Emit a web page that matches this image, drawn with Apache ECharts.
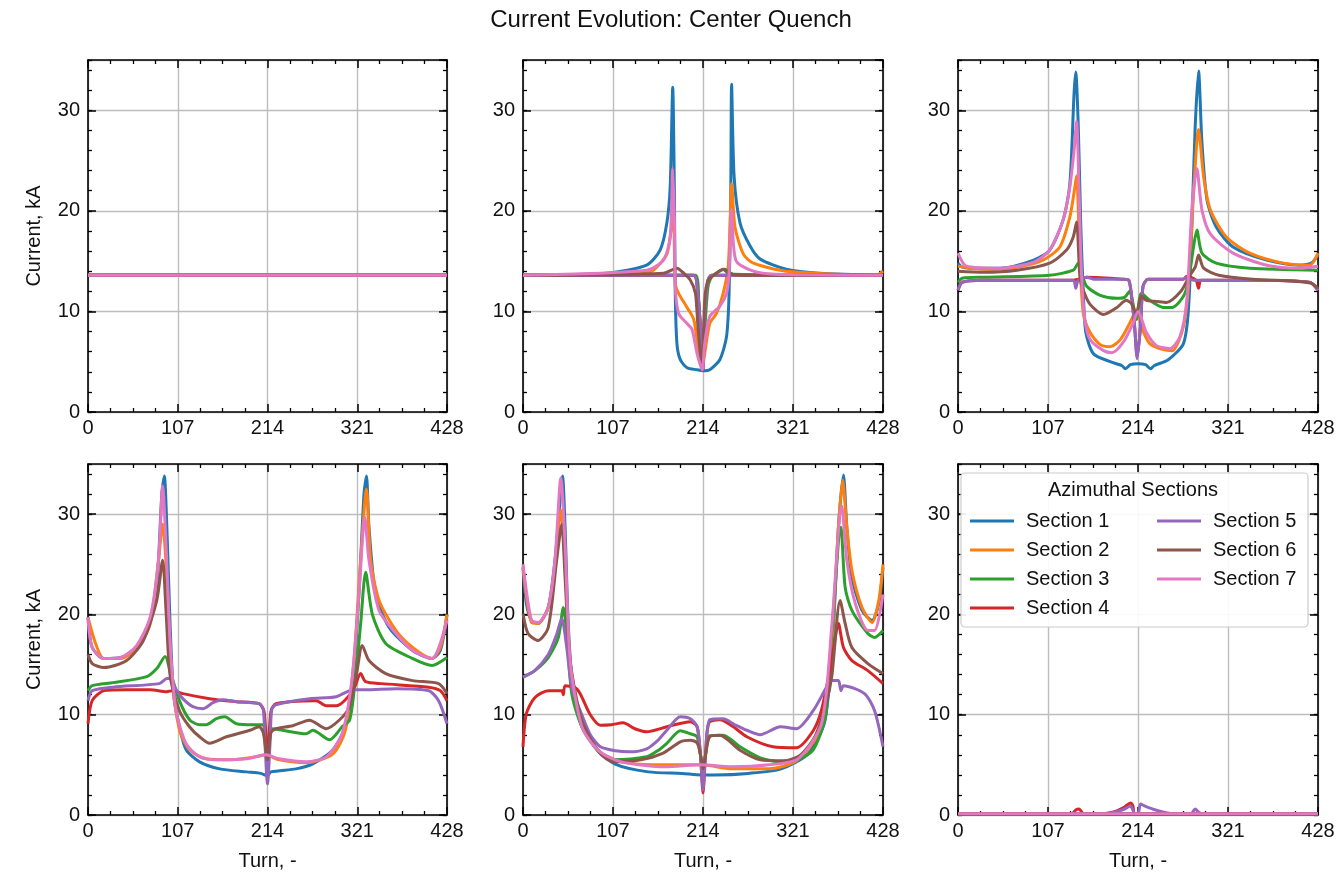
<!DOCTYPE html>
<html>
<head>
<meta charset="utf-8">
<script src="https://cdn.jsdelivr.net/npm/echarts@6/dist/echarts.min.js"></script>
<style>
  html, body { margin: 0; background: #fff; }
  #main { width: 1342px; height: 875px; }
</style>
</head>
<body>
<div id="main"></div>
<script>
const sectionNames = ['Section 1', 'Section 2', 'Section 3', 'Section 4', 'Section 5', 'Section 6', 'Section 7'];
const sectionColors = ['#1f77b4', '#ff7f0e', '#2ca02c', '#d62728', '#9467bd', '#8c564b', '#e377c2'];
const xTickLabels = [0, 107, 214, 321, 428];
const yTickLabels = [0, 10, 20, 30];

// each panel: one [turn, kA] list per section, Section 1 .. Section 7
const panel1 = [
  [[0, 13.6], [428, 13.6]],
  [[0, 13.6], [428, 13.6]],
  [[0, 13.6], [428, 13.6]],
  [[0, 13.6], [428, 13.6]],
  [[0, 13.6], [428, 13.6]],
  [[0, 13.6], [428, 13.6]],
  [[0, 13.6], [428, 13.6]]
];

const panel2 = [
  [[0,13.6],[100,13.8],[147,14.6],[163,16.1],[171,18.8],[175,22.4],[178,32.3],[180,21.7],[181,11.8],[183,6.8],[187,5.2],[195,4.4],[207,4.2],[214,4.1],[222,4.2],[234,5.2],[242,7.5],[245,11.8],[247,21.7],[248,32.6],[251,23.4],[258,18.8],[270,16.5],[282,15.2],[313,14.2],[353,13.8],[428,13.6]],
  [[0,13.6],[140,13.8],[155,14.1],[171,15.7],[176,18],[179,19.6],[181,12.8],[185,11.8],[195,10.4],[203,9.2],[208,6.5],[213,4.2],[216,5.8],[222,8.8],[230,9.8],[238,11.8],[244,14.5],[247,20.8],[248,22.7],[252,18.4],[262,15.7],[274,14.8],[313,14],[420,13.6],[428,14]],
  [[0,13.6],[205,13.6],[209,11],[213,4.2],[216,8],[220,12.5],[225,13.5],[240,14.2],[250,13.7],[428,13.6]],
  [[0,13.6],[203,13.6],[207,12.5],[211,8.5],[214,4.2],[216,9.8],[220,13.1],[224,13.6],[428,13.6]],
  [[0,13.6],[203,13.6],[207,12.5],[211,8.5],[214,4.2],[216,9.8],[220,13.1],[224,13.6],[428,13.6]],
  [[0,13.6],[167,13.8],[183,14.3],[191,13.8],[199,13.1],[205,11.8],[208,8.5],[213,4.2],[216,11.1],[220,13.1],[230,13.8],[238,14.2],[244,13.8],[260,13.6],[428,13.6]],
  [[0,13.6],[147,14.1],[167,15.1],[175,17.4],[178,24.2],[180,19],[181,12.5],[185,9.8],[195,8.8],[201,8.2],[207,5.8],[213,4.2],[216,6.8],[222,9.5],[234,10.5],[242,11.8],[245,13.8],[247,18.4],[248,20.1],[253,15.1],[274,14],[300,13.7],[428,13.6]]
];

const panel3 = [
  [[0,14.8],[5,14.4],[14,14.3],[50,14.3],[90,15.1],[109,16.1],[125,19.1],[133,22.7],[138,31.7],[140,33.8],[143,28.4],[146,18.4],[149,11.8],[152,7.9],[161,5.8],[181,5.0],[195,4.6],[199,4.3],[205,4.7],[214,4.8],[223,4.7],[229,4.3],[233,4.6],[250,5.2],[268,6.8],[274,10.2],[278,18.4],[282,28.4],[286,33.9],[290,26.8],[296,21.1],[307,18.4],[327,16.4],[367,15.1],[406,14.6],[420,14.8],[428,15.6]],
  [[0,14.5],[30,14.2],[70,14.4],[101,15.1],[121,16.4],[133,19.4],[139,22.4],[141,23.5],[145,15.1],[149,9.8],[157,7.9],[169,6.7],[181,6.5],[193,7.2],[204,8.8],[210,9.8],[214,10],[218,8.5],[228,6.8],[244,6.2],[255,6.1],[268,8.5],[274,12.5],[280,21.7],[286,28.1],[292,23.4],[300,20.1],[319,17.4],[347,15.8],[387,14.8],[418,14.6],[428,15.8]],
  [[0,12.9],[5,13.3],[30,13.4],[109,13.6],[137,14.1],[143,14.8],[147,13.8],[153,12.5],[169,11.6],[189,11.3],[198,11.4],[204,12],[208,10.8],[212,9.2],[218,11.8],[228,11.1],[244,10.4],[255,10.4],[268,11.5],[274,13.1],[280,16.4],[284,18.1],[290,15.8],[307,14.8],[347,14.3],[428,14.1]],
  [[0,12.1],[5,12.9],[30,13.1],[137,13.1],[153,13.4],[197,13.2],[203,13.1],[206,11.8],[210,8.5],[213,5.5],[217,8.5],[220,12.5],[226,13.2],[268,13.2],[272,13.5],[283,13.1],[286,12.3],[289,13.1],[347,13.1],[418,12.9],[428,12.1]],
  [[0,12.1],[5,12.9],[30,13.1],[137,13.1],[140,12.3],[143,13.1],[153,13.4],[161,13.2],[197,13.2],[203,13.1],[206,11.8],[210,8.5],[213,5.3],[217,8.5],[220,12.5],[226,13.2],[268,13.2],[272,13.4],[280,13.1],[347,13.1],[418,12.9],[428,12.1]],
  [[0,14.0],[30,13.9],[70,14.1],[109,14.8],[129,16.1],[137,17.4],[141,18.9],[145,13.4],[149,12.1],[157,10.7],[173,9.7],[189,10.4],[200,11.1],[206,10.8],[212,9.8],[218,11.5],[224,11.1],[236,11.0],[248,10.9],[265,12],[275,13.5],[282,14.4],[286,15.6],[292,14.3],[310,13.6],[350,13.2],[400,13.0],[420,12.8],[428,12.3]],
  [[0,15.8],[10,14.5],[50,14.3],[90,14.9],[109,16.1],[125,19.1],[133,22.4],[138,26],[141,28.9],[144,21.7],[147,13.4],[151,9.1],[157,7.2],[173,6.1],[183,5.9],[197,7.0],[208,8.8],[214,10],[224,7.9],[236,6.6],[252,6.3],[264,7.5],[272,11.1],[278,20.1],[284,24.2],[290,20.1],[300,17.7],[327,15.8],[367,14.6],[406,14.3],[428,14.5]]
];

const panel4 = [
  [[0,19.7],[5,16.7],[19,15.6],[39,15.7],[58,16.7],[74,19.4],[82,22.7],[88,32],[91,33.8],[94,28.7],[98,18.7],[102,12.1],[109,8.8],[117,6.5],[133,5.3],[157,4.6],[189,4.3],[206,4.15],[214,3.9],[218,4.3],[248,4.6],[268,5.1],[292,6.5],[307,8.8],[315,12.1],[323,22],[329,32],[332,33.8],[335,28.7],[343,22],[359,18.7],[387,16.4],[410,15.6],[420,16.4],[428,20]],
  [[0,19.7],[19,15.6],[39,15.6],[58,16.6],[74,19],[84,25.4],[89,29],[94,23.7],[100,13.8],[109,8.5],[121,6.5],[141,5.6],[169,5.5],[200,5.8],[212,6.0],[228,5.5],[260,5.2],[292,6.1],[307,8.5],[317,15.4],[325,25.4],[332,32.5],[337,25.4],[347,21.4],[367,18.4],[387,16.7],[410,15.6],[420,16.7],[428,20]],
  [[0,12.4],[5,12.9],[30,13.2],[70,13.8],[82,14.6],[92,15.8],[98,14.3],[109,11.4],[121,9.5],[133,9.0],[141,9.0],[153,9.6],[163,9.8],[177,9.1],[197,9.0],[208,9.0],[214,6.1],[220,8.6],[232,8.45],[260,8.1],[268,8.45],[288,7.5],[303,8.8],[312,9.5],[318,13],[325,19],[331,24.2],[339,20],[355,17.1],[387,15.6],[410,14.9],[428,15.7]],
  [[0,9.1],[5,11.4],[19,12.4],[46,12.5],[74,12.5],[94,12.3],[101,12.4],[113,12.1],[145,11.6],[177,11.3],[204,11.1],[210,10.3],[214,5.5],[218,10.3],[224,11.1],[272,11.4],[284,10.9],[296,10.9],[316,12.4],[325,14.1],[331,13.3],[350,13.1],[406,12.75],[420,12.4],[428,11.4]],
  [[0,11.4],[5,12.4],[30,12.75],[85,13.1],[94,13.6],[98,13.6],[105,12.5],[113,11.6],[125,10.8],[137,10.6],[149,11.2],[161,11.5],[177,11.3],[204,11.1],[209,10.5],[211,7.1],[214,3.1],[217,7.1],[219,10.5],[224,11.0],[264,11.6],[296,11.8],[316,12.5],[331,12.5],[367,12.6],[406,12.4],[418,11.4],[428,9.1]],
  [[0,16.0],[5,15.1],[19,14.7],[46,15.4],[66,17.4],[82,21.4],[89,25.4],[93,20.4],[98,13.8],[109,10.4],[121,8.8],[133,7.8],[145,7.15],[165,7.8],[193,8.45],[204,8.8],[209,8.2],[214,5.5],[218,8.2],[224,8.6],[244,8.9],[264,9.45],[284,8.6],[300,9.5],[311,10.7],[320,14],[327,16.9],[335,15.4],[355,14.1],[387,13.4],[418,13.1],[428,12.1]],
  [[0,19.7],[5,16.7],[19,15.6],[39,15.7],[58,16.9],[74,19.7],[84,25.4],[89,32.8],[93,27],[98,17],[105,10.4],[117,7.1],[133,5.8],[157,5.5],[189,5.6],[212,6.0],[228,5.6],[260,5.3],[284,5.8],[303,8.1],[315,13.75],[323,22],[330,29.7],[335,25.4],[347,20.4],[367,18.1],[387,16.4],[410,15.6],[428,19.4]]
];

const panel5 = [
  [[0,24.7],[4,21.1],[10,19.4],[18,19.1],[30,20.7],[38,25.4],[44,31.3],[47,33.8],[50,28.7],[54,18.7],[60,12.1],[70,8.8],[86,6.8],[109,5.1],[149,4.3],[189,4.15],[212,4.0],[228,4.0],[268,4.15],[307,4.6],[339,6.1],[359,9.4],[369,18.7],[375,28.7],[381,33.9],[385,28.7],[391,23.7],[403,20.4],[415,19.4],[423,21.1],[428,24.7]],
  [[0,24.7],[10,19.2],[18,19.1],[30,20.7],[38,24.7],[45,30.4],[50,25.4],[56,15.4],[70,9.1],[90,6.4],[117,5.3],[169,5.0],[212,5.0],[248,4.6],[292,4.6],[327,5.5],[355,8.8],[367,17.1],[375,28.7],[380,33.4],[385,28.7],[391,24.4],[403,20.7],[415,19.2],[423,21.4],[428,25]],
  [[0,13.75],[14,14.4],[30,15.7],[42,17.7],[48,20.7],[52,18.1],[58,12.1],[70,8.8],[90,6.3],[107,5.5],[147,5.8],[160,6.4],[171,7.15],[187,8.4],[199,8.1],[207,7.8],[211,6],[214,4.6],[217,6],[222,7.9],[238,7.95],[258,6.8],[282,5.7],[306,5.3],[325,5.5],[345,6.5],[360,10],[367,18],[378,28.7],[383,22.7],[391,20.4],[410,18.1],[418,17.7],[428,18.4]],
  [[0,6.8],[4,10.1],[14,11.7],[30,12.4],[46,12.4],[48,12.0],[50,12.9],[62,12.7],[68,12.1],[80,10],[92,8.95],[105,9],[119,9.2],[133,8.6],[147,8.3],[171,8.8],[199,9.3],[207,8.8],[211,6],[214,2.2],[217,6],[221,9.2],[234,9.5],[250,8.8],[266,7.8],[297,6.8],[325,6.7],[345,8.4],[355,10.5],[367,15.4],[375,19.1],[381,16.7],[391,15.4],[410,14.4],[428,13.1]],
  [[0,13.75],[14,14.4],[30,16],[40,18],[46,19.6],[52,16.7],[58,12.7],[68,10.4],[80,8],[92,6.8],[110,6.4],[127,6.3],[147,6.6],[161,7.5],[171,8.45],[187,9.8],[199,9.6],[207,8.8],[211,6],[214,2.5],[217,6],[222,9.5],[238,9.6],[252,9],[266,8.45],[282,8.0],[306,8.8],[325,8.6],[345,10.4],[360,12.6],[367,13.4],[375,13.4],[378,12.4],[381,12.9],[406,12.1],[418,10.4],[428,6.8]],
  [[0,20.1],[6,18.1],[18,17.4],[30,18.7],[40,25.4],[46,29],[50,23.7],[56,15.4],[70,9.4],[90,6.3],[107,5.3],[140,5.5],[166,6.15],[187,7.3],[199,7.45],[207,7.2],[211,6],[214,4.6],[217,6],[222,7.8],[234,7.95],[258,6.45],[282,5.5],[310,5.4],[330,6.0],[347,7.8],[360,11],[367,13.75],[377,21.4],[383,19.1],[391,16.7],[410,15.1],[428,14.1]],
  [[0,25],[10,19.4],[18,19.2],[30,20.7],[38,25.4],[45,33.6],[50,27],[56,15.4],[70,8.8],[90,6.4],[117,5.3],[169,4.8],[212,5.0],[248,4.8],[292,5.0],[327,5.6],[355,9.1],[367,18.7],[379,30.8],[385,25.4],[395,21.1],[410,18.4],[418,18.4],[428,22]]
];

const panel6 = [
  [[0,0.12],[428,0.12]],
  [[0,0.12],[428,0.12]],
  [[0,0.12],[428,0.12]],
  [[0,0.12],[135,0.12],[140,0.5],[144,0.6],[148,0.2],[152,0.12],[170,0.12],[185,0.3],[198,0.8],[205,1.2],[208,0.9],[210,0.12],[428,0.12]],
  [[0,0.12],[170,0.12],[185,0.25],[198,0.6],[205,0.9],[208,0.5],[210,0.12],[214,0.12],[217,1.1],[222,0.9],[235,0.5],[256,0.12],[277,0.12],[282,0.6],[286,0.3],[290,0.12],[428,0.12]],
  [[0,0.12],[428,0.12]],
  [[0,0.12],[428,0.12]]
];

const panels = [panel1, panel2, panel3, panel4, panel5, panel6];
// left, top, width, height of each plot box
const boxes = [
  [88, 60, 359, 352], [523, 60, 360, 352], [958, 60, 360, 352],
  [88, 464, 359, 351], [523, 464, 360, 351], [958, 464, 360, 351]
];

const FONT = '"Liberation Sans", Arial, Helvetica, sans-serif';
const TEXT = '#111';
const XMax = xTickLabels[xTickLabels.length - 1];
const XStep = xTickLabels[1] - xTickLabels[0];
const YMax = 35;
const YStep = yTickLabels[1] - yTickLabels[0];
const YMinor = 2;

var grids = [], xAxes = [], yAxes = [], series = [];

function xAxis(i, pos, main) {
  return {
    type: 'value', gridIndex: i, position: pos, min: 0, max: XMax, interval: XStep,
    axisLine: { show: true, onZero: false, lineStyle: { color: '#000', width: 1.6 } },
    axisTick: { show: true, inside: true, length: 8, lineStyle: { color: '#000', width: 1.5 } },
    minorTick: { show: true, splitNumber: 4, length: 4, lineStyle: { color: '#000', width: 1.3 } },
    splitLine: { show: main, lineStyle: { color: '#bdbdbd', width: 1.4 } },
    axisLabel: { show: main, fontSize: 20, color: TEXT, margin: 6, fontFamily: FONT },
    name: (main && i >= 3) ? 'Turn, -' : '',
    nameLocation: 'middle', nameGap: 36,
    nameTextStyle: { fontSize: 20, color: TEXT, fontFamily: FONT }
  };
}

function yAxis(i, pos, main, minor) {
  return {
    type: 'value', gridIndex: i, position: pos, min: 0, max: YMax, interval: minor ? YMinor : YStep,
    axisLine: { show: !minor, onZero: false, lineStyle: { color: '#000', width: 1.6 } },
    axisTick: { show: true, inside: true, length: minor ? 4 : 8, lineStyle: { color: '#000', width: minor ? 1.3 : 1.5 } },
    splitLine: { show: main && !minor, lineStyle: { color: '#bdbdbd', width: 1.4 } },
    axisLabel: { show: main && !minor, showMaxLabel: false, fontSize: 20, color: TEXT, margin: 8, fontFamily: FONT },
    name: (main && !minor && i % 3 == 0) ? 'Current, kA' : '',
    nameLocation: 'middle', nameGap: 44, nameRotate: 90,
    nameTextStyle: { fontSize: 20, color: TEXT, fontFamily: FONT }
  };
}

boxes.forEach(function (b, i) {
  grids.push({ left: b[0], top: b[1], width: b[2], height: b[3] });
  xAxes.push(xAxis(i, 'bottom', true));
  xAxes.push(xAxis(i, 'top', false));
  yAxes.push(yAxis(i, 'left', true, false));
  yAxes.push(yAxis(i, 'left', true, true));
  yAxes.push(yAxis(i, 'right', false, false));
  yAxes.push(yAxis(i, 'right', false, true));
  panels[i].forEach(function (d, s) {
    series.push({
      type: 'line', name: sectionNames[s],
      xAxisIndex: 2 * i, yAxisIndex: 4 * i,
      data: d, symbol: 'none', smooth: 0.25,
      lineStyle: { width: 3, color: sectionColors[s] },
      itemStyle: { color: sectionColors[s] },
      z: 2 + s * 0.01
    });
  });
});

function legendCol(names, left) {
  return {
    data: names, orient: 'vertical', left: left, top: 506,
    icon: 'rect', itemWidth: 44, itemHeight: 3, itemGap: 9,
    selectedMode: false, z: 60,
    textStyle: { fontSize: 20, lineHeight: 20, color: TEXT, fontFamily: FONT, padding: [0, 0, 0, 7] }
  };
}

const chart = echarts.init(document.getElementById('main'), null, { renderer: 'canvas' });
chart.setOption({
  animation: false,
  backgroundColor: '#fff',
  color: sectionColors,
  title: {
    text: 'Current Evolution: Center Quench', left: 'center', top: 3,
    textStyle: { fontSize: 24, fontWeight: 'normal', color: TEXT, fontFamily: FONT }
  },
  grid: grids,
  xAxis: xAxes,
  yAxis: yAxes,
  legend: [legendCol(sectionNames.slice(0, 4), 965), legendCol(sectionNames.slice(4), 1152)],
  graphic: [
    {
      type: 'rect', z: 50,
      shape: { x: 961, y: 473, width: 347, height: 154, r: 4 },
      style: { fill: 'rgba(255,255,255,0.9)', stroke: '#cccccc', lineWidth: 1.2 }
    },
    {
      type: 'text', z: 51, x: 1133, y: 490,
      style: { text: 'Azimuthal Sections', fontSize: 20, fontFamily: FONT, fill: TEXT, align: 'center', verticalAlign: 'middle' }
    }
  ],
  series: series
});
</script>
</body>
</html>
